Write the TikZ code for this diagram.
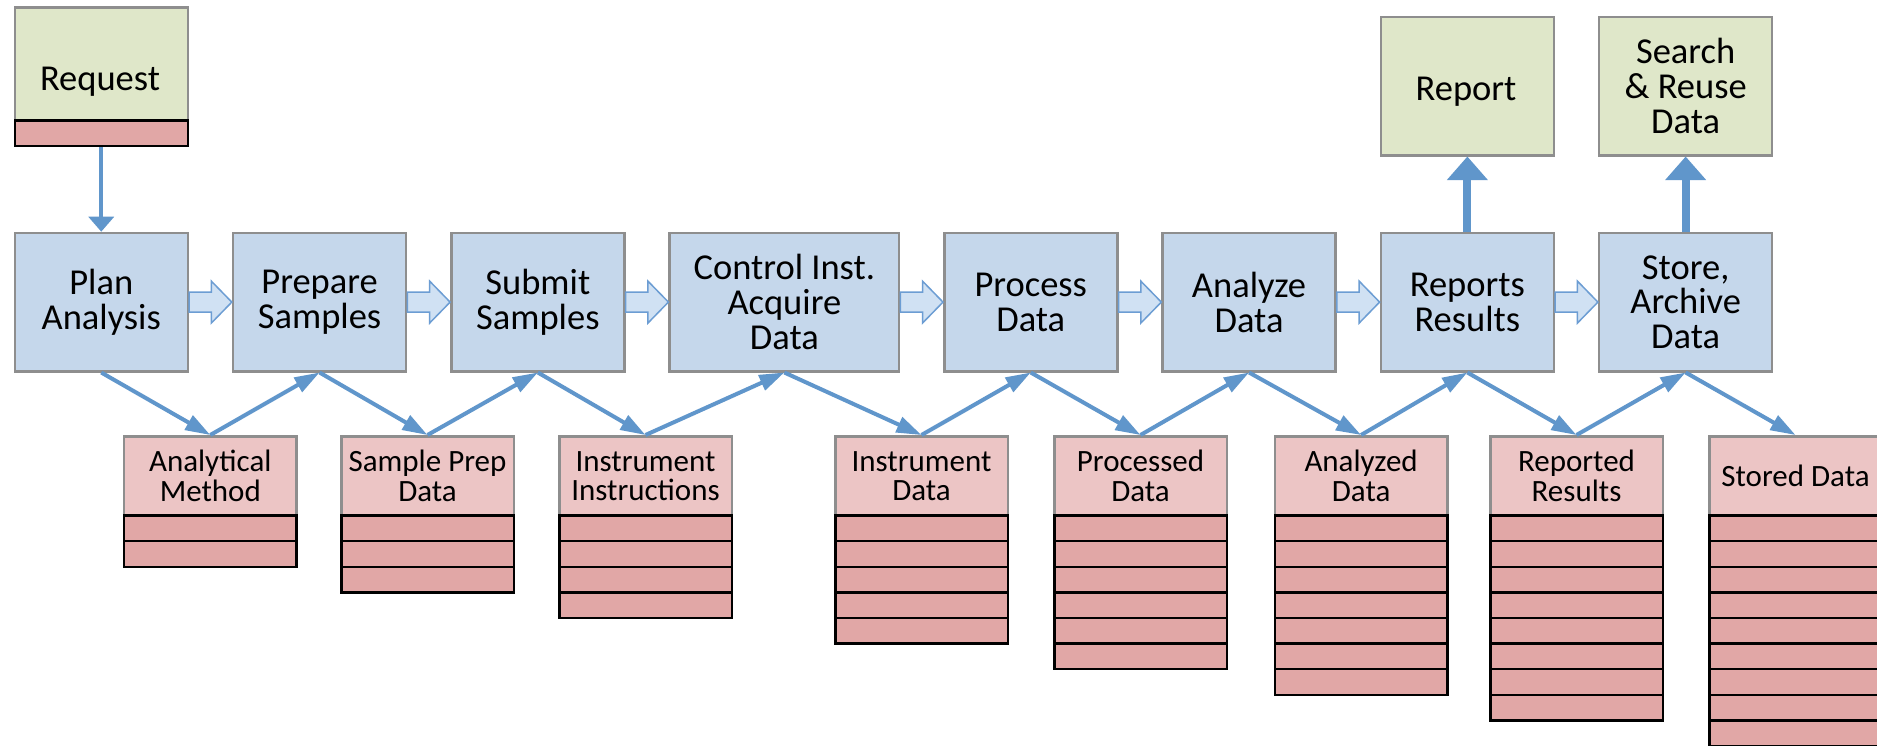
\documentclass[tikz,border=0pt]{standalone}
\usepackage{fontspec}
\setmainfont{Carlito}
\usetikzlibrary{arrows.meta,calc}
\definecolor{bluefill}{HTML}{C5D7EB}
\definecolor{boxborder}{HTML}{8E8E8E}
\definecolor{greenfill}{HTML}{DFE7C9}
\definecolor{pinkfill}{HTML}{ECC5C5}
\definecolor{rowfill}{HTML}{E1A7A6}
\definecolor{arrowblue}{HTML}{6096CB}
\definecolor{hollowfill}{HTML}{D0E1F3}
\definecolor{hollowline}{HTML}{6C9DD3}
\tikzset{
  box/.style={draw=boxborder, line width=2.5pt, inner sep=0pt, align=center,
    anchor=north west, font=\fontsize{36.5}{34.8}\selectfont},
  bluebox/.style={box, fill=bluefill, minimum width=173pt, minimum height=138.3pt},
  greenbox/.style={box, fill=greenfill, minimum width=173pt, minimum height=138.3pt},
  pinkbox/.style={box, fill=pinkfill, minimum width=172.5pt, minimum height=79.3pt,
    font=\fontsize{31}{29.4}\selectfont},
  rowbox/.style={draw=black, line width=2.5pt, fill=rowfill, inner sep=0pt,
    anchor=north west, minimum width=172.5pt, minimum height=25.6pt},
  bigtext/.style={inner sep=0pt, font=\fontsize{36.5}{34.8}\selectfont},
  diag/.style={draw=arrowblue, line width=4pt, -{Triangle[length=25pt,width=16pt]}},
  downarrow/.style={draw=arrowblue, line width=4pt, -{Triangle[length=15pt,width=25pt]}},
  uparrow/.style={draw=arrowblue, line width=8pt, -{Triangle[length=23.5pt,width=39.5pt]}},
  hollow/.style={draw=hollowline, fill=hollowfill, line width=1.5pt, line join=miter},
}
\newcommand{\datastack}[4]{%
  \node[pinkbox] (#1) at (#2,435) {#3};
  \foreach \i in {1,...,#4} {
    \node[rowbox] (#1-r\i) at ({#2},{514.3+(\i-1)*25.6}) {};
  }
}
\newcommand{\hollowarrow}[2]{%
  \draw[hollow] ($(#1.east)+(0,-10)$) -- ($(#2.west)+(-20.5,-10)$)
    -- ($(#2.west)+(-20.5,-21)$) -- (#2.west) -- ($(#2.west)+(-20.5,21)$)
    -- ($(#2.west)+(-20.5,10)$) -- ($(#1.east)+(0,10)$) -- cycle;}
\begin{document}
\begin{tikzpicture}[x=1pt,y=-1pt]
\useasboundingbox (0,0) rectangle (1877,745);
\clip (0,0) rectangle (1877,745);
\fill[white] (0,0) rectangle (1877,745);
% green boxes
\node[greenbox, minimum height=113pt] (request) at (13.5,6) {};
\node[rowbox, minimum width=173pt] (reqstrip) at (13.5,119) {};
\node[bigtext, anchor=base] (reqtext) at (100,90.7) {Request};
\node[greenbox] (report) at (1379.6,15.7) {};
\node[bigtext, anchor=base] (reporttext) at (1466,100) {Report};
\node[greenbox] (search) at (1597.9,15.7) {Search\\\& Reuse\\Data};
% blue process boxes
\node[bluebox] (plan) at (13.5,231.7) {Plan\\Analysis};
\node[bluebox] (prep) at (231.8,231.7) {Prepare\\Samples};
\node[bluebox] (subm) at (450.1,231.7) {Submit\\Samples};
\node[bluebox, minimum width=229.4pt] (ctrl) at (668.4,231.7) {Control Inst.\\Acquire\\Data};
\node[bluebox] (proc) at (943,231.7) {Process\\Data};
\node[bluebox] (anlz) at (1161.3,231.7) {Analyze\\Data};
\node[bluebox] (repr) at (1379.6,231.7) {Reports\\Results};
\node[bluebox] (stor) at (1597.9,231.7) {Store,\\Archive\\Data};
% data stacks
\datastack{am}{122.8}{Analytical\\Method}{2}
\datastack{spd}{340}{Sample Prep\\Data}{3}
\datastack{ii}{558}{Instrument\\Instructions}{4}
\datastack{idat}{834}{Instrument\\Data}{5}
\datastack{pdat}{1053}{Processed\\Data}{6}
\datastack{adat}{1273.6}{Analyzed\\Data}{7}
\datastack{rres}{1489}{Reported\\Results}{8}
\datastack{sdat}{1708}{Stored Data}{9}
% hollow flow arrows
\hollowarrow{plan}{prep}
\hollowarrow{prep}{subm}
\hollowarrow{subm}{ctrl}
\hollowarrow{ctrl}{proc}
\hollowarrow{proc}{anlz}
\hollowarrow{anlz}{repr}
\hollowarrow{repr}{stor}
% request and output arrows
\draw[downarrow] (reqstrip.south) -- (plan.north);
\draw[uparrow] (repr.north) -- (report.south);
\draw[uparrow] (stor.north) -- (search.south);
% zigzag data arrows
\draw[diag] (plan.south) -- (am.north);
\draw[diag] (am.north) -- (prep.south);
\draw[diag] (prep.south) -- (spd.north);
\draw[diag] (spd.north) -- (subm.south);
\draw[diag] (subm.south) -- (ii.north);
\draw[diag] (ii.north) -- (ctrl.south);
\draw[diag] (ctrl.south) -- (idat.north);
\draw[diag] (idat.north) -- (proc.south);
\draw[diag] (proc.south) -- (pdat.north);
\draw[diag] (pdat.north) -- (anlz.south);
\draw[diag] (anlz.south) -- (adat.north);
\draw[diag] (adat.north) -- (repr.south);
\draw[diag] (repr.south) -- (rres.north);
\draw[diag] (rres.north) -- (stor.south);
\draw[diag] (stor.south) -- (sdat.north);
\end{tikzpicture}
\end{document}
